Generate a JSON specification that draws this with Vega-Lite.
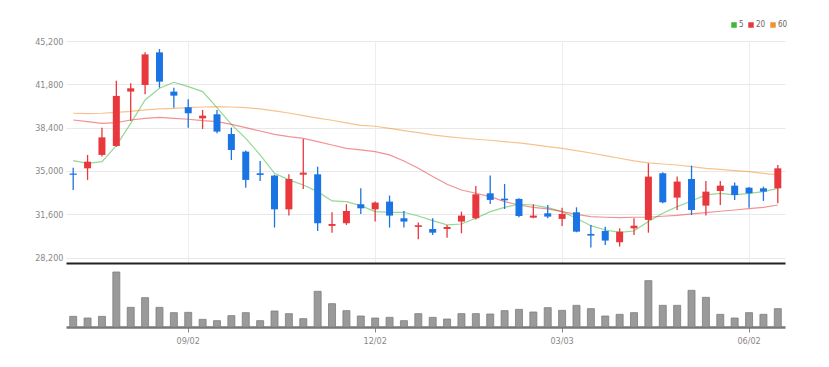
{
  "$schema": "https://vega.github.io/schema/vega-lite/v6.json",
  "background": "white",
  "padding": {"left": 34, "top": 21, "right": 10, "bottom": 5},
  "spacing": 0,
  "bounds": "flush",
  "datasets": {
    "w": [
      {"d": "2024-07-08", "o": 34800, "h": 35260, "l": 33510, "c": 34700, "v": 32000, "ma5": 35810, "ma20": 39000, "ma60": 39530},
      {"d": "2024-07-15", "o": 35210, "h": 36260, "l": 34300, "c": 35730, "v": 27000, "ma5": 35600, "ma20": 38870, "ma60": 39500},
      {"d": "2024-07-22", "o": 36260, "h": 38400, "l": 36130, "c": 37640, "v": 32000, "ma5": 35730, "ma20": 38740, "ma60": 39530},
      {"d": "2024-07-29", "o": 36960, "h": 42090, "l": 36910, "c": 40890, "v": 165000, "ma5": 36990, "ma20": 38790, "ma60": 39600},
      {"d": "2024-08-05", "o": 41230, "h": 41880, "l": 38920, "c": 41490, "v": 59000, "ma5": 38740, "ma20": 39000, "ma60": 39680},
      {"d": "2024-08-12", "o": 41750, "h": 44310, "l": 41020, "c": 44150, "v": 88000, "ma5": 40570, "ma20": 39130, "ma60": 39790},
      {"d": "2024-08-19", "o": 44310, "h": 44570, "l": 41540, "c": 42010, "v": 59000, "ma5": 41490, "ma20": 39210, "ma60": 39870},
      {"d": "2024-08-26", "o": 41230, "h": 41540, "l": 39970, "c": 40910, "v": 43000, "ma5": 41960, "ma20": 39130, "ma60": 39920},
      {"d": "2024-09-02", "o": 40000, "h": 40620, "l": 38400, "c": 39530, "v": 44000, "ma5": 41620, "ma20": 39060, "ma60": 39970},
      {"d": "2024-09-09", "o": 39130, "h": 39790, "l": 38300, "c": 39340, "v": 23000, "ma5": 41230, "ma20": 38950, "ma60": 40020},
      {"d": "2024-09-16", "o": 39450, "h": 39790, "l": 37960, "c": 38090, "v": 19000, "ma5": 39970, "ma20": 38870, "ma60": 40050},
      {"d": "2024-09-23", "o": 37900, "h": 38400, "l": 35860, "c": 36650, "v": 34000, "ma5": 38660, "ma20": 38660, "ma60": 40020},
      {"d": "2024-09-30", "o": 36520, "h": 36600, "l": 33690, "c": 34300, "v": 43000, "ma5": 37560, "ma20": 38400, "ma60": 39970},
      {"d": "2024-10-07", "o": 34820, "h": 35790, "l": 34220, "c": 34690, "v": 19000, "ma5": 36260, "ma20": 38140, "ma60": 39870},
      {"d": "2024-10-14", "o": 34640, "h": 34700, "l": 30560, "c": 31990, "v": 48000, "ma5": 34820, "ma20": 37880, "ma60": 39710},
      {"d": "2024-10-21", "o": 31990, "h": 34740, "l": 31500, "c": 34370, "v": 40000, "ma5": 34300, "ma20": 37700, "ma60": 39550},
      {"d": "2024-10-28", "o": 34710, "h": 37510, "l": 33590, "c": 34870, "v": 25000, "ma5": 33900, "ma20": 37560, "ma60": 39340},
      {"d": "2024-11-04", "o": 34740, "h": 35340, "l": 30290, "c": 30900, "v": 107000, "ma5": 33380, "ma20": 37300, "ma60": 39150},
      {"d": "2024-11-11", "o": 30690, "h": 31760, "l": 30160, "c": 30840, "v": 70000, "ma5": 32650, "ma20": 37040, "ma60": 38980},
      {"d": "2024-11-18", "o": 30900, "h": 32390, "l": 30770, "c": 31860, "v": 49000, "ma5": 32600, "ma20": 36780, "ma60": 38780},
      {"d": "2024-11-25", "o": 32390, "h": 33640, "l": 31630, "c": 32070, "v": 33000, "ma5": 32280, "ma20": 36650, "ma60": 38580},
      {"d": "2024-12-02", "o": 31990, "h": 32600, "l": 31030, "c": 32520, "v": 27000, "ma5": 31810, "ma20": 36520, "ma60": 38510},
      {"d": "2024-12-09", "o": 32600, "h": 33070, "l": 30560, "c": 31500, "v": 29000, "ma5": 31760, "ma20": 36260, "ma60": 38350},
      {"d": "2024-12-16", "o": 31290, "h": 31860, "l": 30560, "c": 31030, "v": 19000, "ma5": 31760, "ma20": 35790, "ma60": 38170},
      {"d": "2024-12-23", "o": 30610, "h": 30950, "l": 29640, "c": 30740, "v": 40000, "ma5": 31470, "ma20": 35210, "ma60": 38010},
      {"d": "2024-12-30", "o": 30450, "h": 31290, "l": 29980, "c": 30160, "v": 29000, "ma5": 31110, "ma20": 34560, "ma60": 37830},
      {"d": "2025-01-06", "o": 30450, "h": 30770, "l": 29770, "c": 30610, "v": 24000, "ma5": 30770, "ma20": 33960, "ma60": 37700},
      {"d": "2025-01-13", "o": 31030, "h": 31810, "l": 30110, "c": 31500, "v": 40000, "ma5": 30840, "ma20": 33510, "ma60": 37590},
      {"d": "2025-01-20", "o": 31290, "h": 33830, "l": 31200, "c": 33170, "v": 40000, "ma5": 31290, "ma20": 33250, "ma60": 37490},
      {"d": "2025-01-27", "o": 33250, "h": 34640, "l": 32410, "c": 32730, "v": 39000, "ma5": 31810, "ma20": 32990, "ma60": 37410},
      {"d": "2025-02-03", "o": 32830, "h": 33980, "l": 32020, "c": 32700, "v": 49000, "ma5": 32150, "ma20": 32600, "ma60": 37300},
      {"d": "2025-02-10", "o": 32810, "h": 32860, "l": 31370, "c": 31470, "v": 53000, "ma5": 32390, "ma20": 32330, "ma60": 37200},
      {"d": "2025-02-17", "o": 31340, "h": 32390, "l": 31290, "c": 31500, "v": 45000, "ma5": 32330, "ma20": 32150, "ma60": 37070},
      {"d": "2025-02-24", "o": 31680, "h": 32330, "l": 31290, "c": 31420, "v": 58000, "ma5": 32120, "ma20": 32020, "ma60": 36910},
      {"d": "2025-03-03", "o": 31240, "h": 32120, "l": 30690, "c": 31630, "v": 50000, "ma5": 31810, "ma20": 31810, "ma60": 36780},
      {"d": "2025-03-10", "o": 31760, "h": 32150, "l": 30190, "c": 30240, "v": 65000, "ma5": 31290, "ma20": 31600, "ma60": 36600},
      {"d": "2025-03-17", "o": 30060, "h": 30770, "l": 28990, "c": 29930, "v": 55000, "ma5": 30710, "ma20": 31420, "ma60": 36410},
      {"d": "2025-03-24", "o": 30290, "h": 30630, "l": 29200, "c": 29540, "v": 33000, "ma5": 30370, "ma20": 31370, "ma60": 36200},
      {"d": "2025-03-31", "o": 29410, "h": 30500, "l": 29070, "c": 30240, "v": 38000, "ma5": 30190, "ma20": 31340, "ma60": 36000},
      {"d": "2025-04-07", "o": 30500, "h": 31290, "l": 29980, "c": 30710, "v": 43000, "ma5": 30290, "ma20": 31370, "ma60": 35790},
      {"d": "2025-04-14", "o": 31160, "h": 35600, "l": 30160, "c": 34560, "v": 139000, "ma5": 31030, "ma20": 31370, "ma60": 35630},
      {"d": "2025-04-21", "o": 34820, "h": 34900, "l": 32470, "c": 32540, "v": 65000, "ma5": 31680, "ma20": 31450, "ma60": 35550},
      {"d": "2025-04-28", "o": 32910, "h": 34560, "l": 31940, "c": 34170, "v": 65000, "ma5": 32200, "ma20": 31520, "ma60": 35470},
      {"d": "2025-05-05", "o": 34370, "h": 35420, "l": 31550, "c": 31940, "v": 110000, "ma5": 32650, "ma20": 31630, "ma60": 35340},
      {"d": "2025-05-12", "o": 32280, "h": 34220, "l": 31500, "c": 33380, "v": 89000, "ma5": 33120, "ma20": 31730, "ma60": 35210},
      {"d": "2025-05-19", "o": 33430, "h": 34220, "l": 32330, "c": 33850, "v": 38000, "ma5": 33250, "ma20": 31840, "ma60": 35130},
      {"d": "2025-05-26", "o": 33850, "h": 34090, "l": 32730, "c": 33120, "v": 27000, "ma5": 33120, "ma20": 31940, "ma60": 35030},
      {"d": "2025-06-02", "o": 33690, "h": 33750, "l": 32120, "c": 33250, "v": 43000, "ma5": 33250, "ma20": 32050, "ma60": 34950},
      {"d": "2025-06-09", "o": 33640, "h": 33770, "l": 32650, "c": 33380, "v": 38000, "ma5": 33380, "ma20": 32150, "ma60": 34820},
      {"d": "2025-06-16", "o": 33640, "h": 35470, "l": 32470, "c": 35210, "v": 55000, "ma5": 33640, "ma20": 32330, "ma60": 34690}
    ]
  },
  "resolve": {"scale": {"y": "independent"}},
  "vconcat": [
    {
      "width": 719,
      "height": 222,
      "data": {"name": "w"},
      "encoding": {
        "x": {
          "field": "d", "type": "ordinal",
          "scale": {"paddingInner": 0, "paddingOuter": 0},
          "axis": {"values": ["2024-09-02", "2024-12-02", "2025-03-03", "2025-06-02"], "labels": false, "ticks": false, "grid": true, "gridColor": "#eeeeee", "domainColor": "#222222", "domainWidth": 2, "title": null}
        }
      },
      "layer": [
        {
          "transform": [{"fold": ["ma5", "ma20", "ma60"], "as": ["ma", "val"]}],
          "mark": {"type": "line", "strokeWidth": 1.2, "opacity": 0.55},
          "encoding": {
            "y": {
              "field": "val", "type": "quantitative",
              "scale": {"domain": [27780, 45200], "nice": false, "zero": false},
              "axis": {"values": [28200, 31600, 35000, 38400, 41800, 45200], "format": ",d", "grid": true, "gridColor": "#e8e8e8", "domain": false, "ticks": false, "labelPadding": 3, "title": null}
            },
            "stroke": {
              "field": "ma", "type": "nominal",
              "scale": {"range": ["#e8383d", "#3cb83c", "#f0902f"]},
              "legend": null
            }
          }
        },
        {
          "transform": [{"fold": ["ma5", "ma20", "ma60"], "as": ["ma", "val"]}, {"filter": "datum.val < 0"}],
          "mark": {"type": "square", "filled": true, "opacity": 1},
          "encoding": {
            "y": {"field": "val", "type": "quantitative"},
            "color": {
              "field": "ma", "type": "nominal",
              "scale": {"domain": ["ma5", "ma20", "ma60"], "range": ["#3cb83c", "#e8383d", "#f0902f"]},
              "legend": {
                "orient": "none", "legendX": 664, "legendY": -20, "direction": "horizontal", "title": null,
                "symbolType": "square", "symbolSize": 30, "labelFontSize": 8, "labelColor": "#666666",
                "columnPadding": 3, "labelOffset": 1, "symbolStrokeWidth": 0, "symbolOpacity": 1,
                "labelExpr": "replace(datum.label, 'ma', '')"
              }
            }
          }
        },
        {
          "mark": {"type": "rule", "strokeWidth": 1.3},
          "encoding": {
            "y": {"field": "l", "type": "quantitative"},
            "y2": {"field": "h"},
            "color": {"condition": {"test": "datum.c >= datum.o", "value": "#e8383d"}, "value": "#1b74e4"}
          }
        },
        {
          "mark": {"type": "bar", "size": 7},
          "encoding": {
            "y": {"field": "o", "type": "quantitative"},
            "y2": {"field": "c"},
            "color": {"condition": {"test": "datum.c >= datum.o", "value": "#e8383d"}, "value": "#1b74e4"}
          }
        }
      ]
    },
    {
      "width": 719,
      "height": 64,
      "data": {"name": "w"},
      "mark": {"type": "bar", "size": 7, "fill": "#9a9a9a", "stroke": "#7d7d7d", "strokeWidth": 0.8},
      "encoding": {
        "x": {
          "field": "d", "type": "ordinal",
          "scale": {"paddingInner": 0, "paddingOuter": 0},
          "axis": {"values": ["2024-09-02", "2024-12-02", "2025-03-03", "2025-06-02"], "labelExpr": "substring(datum.value, 5, 7) + '/' + substring(datum.value, 8, 10)", "labelAngle": 0, "domainColor": "#777777", "domainWidth": 2.5, "tickColor": "#888888", "tickSize": 5, "labelPadding": 4, "grid": false, "title": null}
        },
        "y": {"field": "v", "type": "quantitative", "scale": {"domain": [0, 192000]}, "axis": null}
      }
    }
  ],
  "config": {
    "view": {"stroke": null},
    "font": "DejaVu Sans Condensed, sans-serif",
    "axis": {"labelColor": "#888888", "labelFontSize": 9, "labelFont": "DejaVu Sans Condensed, sans-serif"},
    "legend": {"labelFont": "DejaVu Sans Condensed, sans-serif"}
  }
}
